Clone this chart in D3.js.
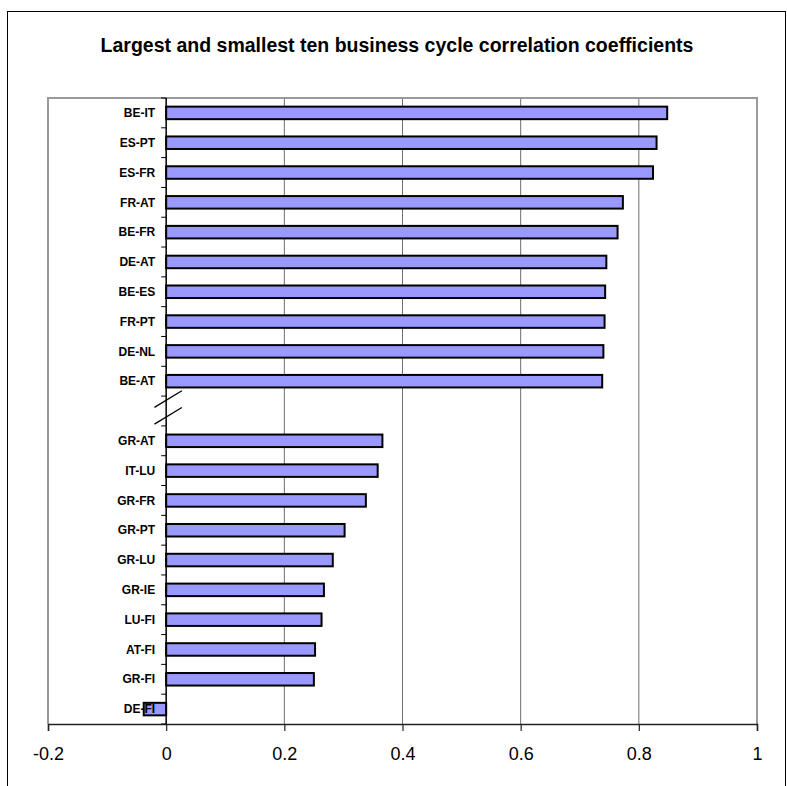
<!DOCTYPE html>
<html>
<head>
<meta charset="utf-8">
<script src="https://cdn.jsdelivr.net/npm/d3@7"></script>
<style>
  html, body { margin: 0; padding: 0; background: #fff; }
  svg { display: block; font-family: "Liberation Sans", Arial, sans-serif; }
</style>
</head>
<body>
<svg id="chart" width="787" height="786"></svg>
<script>
// ---- data ----
const title = "Largest and smallest ten business cycle correlation coefficients";
const categories = ["BE-IT","ES-PT","ES-FR","FR-AT","BE-FR","DE-AT","BE-ES","FR-PT","DE-NL","BE-AT",
                    "__gap__",
                    "GR-AT","IT-LU","GR-FR","GR-PT","GR-LU","GR-IE","LU-FI","AT-FI","GR-FI","DE-FI"];
const values = [0.848, 0.830, 0.824, 0.773, 0.764, 0.745, 0.743, 0.742, 0.740, 0.738,
                null,
                0.366, 0.358, 0.338, 0.302, 0.282, 0.267, 0.263, 0.252, 0.250, -0.038];
const xTicks = [-0.2, 0, 0.2, 0.4, 0.6, 0.8, 1];
const xTickLabels = ["-0.2", "0", "0.2", "0.4", "0.6", "0.8", "1"];

const svg = d3.select("#chart");
const plot = { left: 48, top: 98, right: 757, bottom: 724 };

const x = d3.scaleLinear().domain([-0.2, 1]).range([plot.left, plot.right]);
const y = d3.scaleBand().domain(categories).range([plot.top, plot.bottom]).padding(0);

// outer chart border
svg.append("rect").attr("x", 7.5).attr("y", 11.5).attr("width", 778).attr("height", 900)
  .attr("fill", "none").attr("stroke", "#000").attr("stroke-width", 1);

// title
svg.append("text").attr("x", 397).attr("y", 52).attr("text-anchor", "middle")
  .attr("font-size", 19.5).attr("font-weight", "bold").text(title);

// gridlines
svg.append("g").selectAll("line").data(xTicks.filter(d => d > 0 && d < 1)).join("line")
  .attr("x1", d => x(d)).attr("x2", d => x(d))
  .attr("y1", plot.top).attr("y2", plot.bottom)
  .attr("stroke", "#6e6e6e").attr("stroke-width", 1);

// plot area border (gray) left, top, right
svg.append("path")
  .attr("d", `M${plot.left},${plot.bottom} V${plot.top} H${plot.right} V${plot.bottom}`)
  .attr("fill", "none").attr("stroke", "#999").attr("stroke-width", 2);

// bars
const data = categories.map((c, i) => ({ c, v: values[i] })).filter(d => d.v !== null);
const barH = y.bandwidth() * 0.42;
svg.append("g").selectAll("rect").data(data).join("rect")
  .attr("x", d => Math.min(x(0), x(d.v)))
  .attr("width", d => Math.abs(x(d.v) - x(0)))
  .attr("y", d => y(d.c) + (y.bandwidth() - barH) / 2)
  .attr("height", barH)
  .attr("fill", "#9999ff").attr("stroke", "#000").attr("stroke-width", 2);

// bottom axis
const xAxis = d3.axisBottom(x).tickValues(xTicks)
  .tickFormat((d, i) => xTickLabels[i]).tickSize(7).tickPadding(16);
const gx = svg.append("g").attr("transform", `translate(0,${plot.bottom})`).call(xAxis);
gx.select(".domain").attr("stroke", "#222").attr("stroke-width", 1.5);
gx.selectAll(".tick line").attr("stroke", "#222").attr("stroke-width", 1.2);
gx.selectAll(".tick text").attr("font-size", 18).attr("font-family", "Liberation Sans, Arial, sans-serif").attr("fill", "#000");

// category axis at x = 0
const gy = svg.append("g").attr("transform", `translate(${x(0)},0)`);
gy.append("line").attr("x1", 0).attr("x2", 0).attr("y1", plot.top).attr("y2", plot.bottom)
  .attr("stroke", "#000").attr("stroke-width", 1.5);
const bounds = categories.map(c => y(c)).concat([y(categories[categories.length - 1]) + y.bandwidth()]);
gy.selectAll("line.tk").data(bounds).join("line").attr("class", "tk")
  .attr("x1", -5).attr("x2", 0).attr("y1", d => d).attr("y2", d => d)
  .attr("stroke", "#000").attr("stroke-width", 1);
gy.selectAll("text").data(categories.filter(c => c !== "__gap__")).join("text")
  .attr("x", -11).attr("y", d => y(d) + y.bandwidth() / 2).attr("dy", "0.35em")
  .attr("text-anchor", "end").attr("font-size", 12).attr("font-weight", "bold").text(d => d);

// axis break marks in the gap slot
const gy0 = y("__gap__"), gh = y.bandwidth();
[0, 16.7].forEach(off => {
  svg.append("line")
    .attr("x1", x(0) - 11.7).attr("y1", gy0 + 11.3 + off)
    .attr("x2", x(0) + 15.7).attr("y2", gy0 - 5.3 + off)
    .attr("stroke", "#000").attr("stroke-width", 1.3);
});
</script>
</body>
</html>
